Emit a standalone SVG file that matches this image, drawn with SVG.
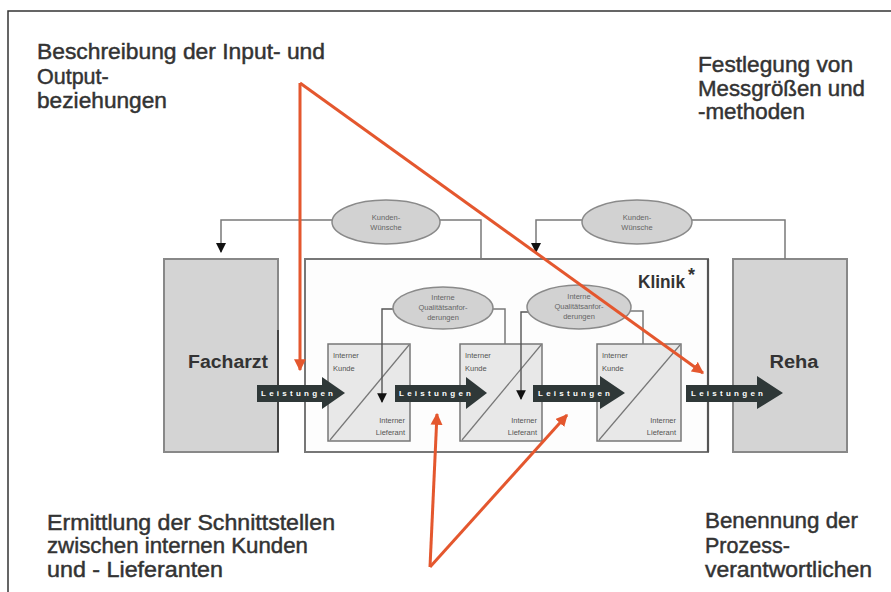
<svg xmlns="http://www.w3.org/2000/svg" width="891" height="592" viewBox="0 0 891 592">
<defs>
<style>
.big{font-family:"Liberation Sans",Arial,sans-serif;font-size:21.5px;fill:#333;stroke:#333;stroke-width:0.45}
.lbl{font-family:"Liberation Sans",Arial,sans-serif;font-weight:bold;font-size:18px;fill:#333}
.sm{font-family:"Liberation Sans",Arial,sans-serif;font-size:7.5px;fill:#555}
.ell{font-family:"Liberation Sans",Arial,sans-serif;font-size:7.5px;fill:#666}
.lei{font-family:"Liberation Sans",Arial,sans-serif;font-size:8px;fill:#fff;font-weight:bold}
.gl{fill:none;stroke:#7a7a7a;stroke-width:1.5}
.dl{fill:none;stroke:#555;stroke-width:1.4}
.red{fill:none;stroke:#e4572e;stroke-width:3}
.bigbox{fill:#d4d4d4;stroke:#888;stroke-width:2}
.pbox{fill:#e8e8e8;stroke:#777;stroke-width:1.5}
.ov{fill:#d2d2d2;stroke:#8a8a8a;stroke-width:1.5}
.arr{fill:#2f3838}
</style>
<marker id="ra" viewBox="0 0 10 10" refX="9" refY="5" markerWidth="4" markerHeight="4" orient="auto" markerUnits="strokeWidth">
<path d="M0,0 L10,5 L0,10 z" fill="#e4572e"/>
</marker>
<marker id="ba" viewBox="0 0 10 10" refX="9" refY="5" markerWidth="7" markerHeight="7" orient="auto" markerUnits="strokeWidth">
<path d="M0,0 L10,5 L0,10 z" fill="#111"/>
</marker>
</defs>
<rect x="0" y="0" width="891" height="592" fill="#fff"/>
<path d="M8,592 L8,11 L891,11" fill="none" stroke="#333" stroke-width="1.5"/>

<g id="text-input-output">
<text class="big" x="37" y="59" textLength="288" lengthAdjust="spacingAndGlyphs">Beschreibung der Input- und</text>
<text class="big" x="37" y="84">Output-</text>
<text class="big" x="37" y="108" textLength="130" lengthAdjust="spacingAndGlyphs">beziehungen</text>
</g>
<g id="text-messgroessen">
<text class="big" x="698" y="72" textLength="155" lengthAdjust="spacingAndGlyphs">Festlegung von</text>
<text class="big" x="698" y="96" textLength="167" lengthAdjust="spacingAndGlyphs">Messgrößen und</text>
<text class="big" x="698" y="119" textLength="107" lengthAdjust="spacingAndGlyphs">-methoden</text>
</g>
<g id="text-schnittstellen">
<text class="big" x="47" y="530" textLength="288" lengthAdjust="spacingAndGlyphs">Ermittlung der Schnittstellen</text>
<text class="big" x="47" y="553" textLength="261" lengthAdjust="spacingAndGlyphs">zwischen internen Kunden</text>
<text class="big" x="47" y="577" textLength="176" lengthAdjust="spacingAndGlyphs">und - Lieferanten</text>
</g>
<g id="text-prozess">
<text class="big" x="705" y="528" textLength="153" lengthAdjust="spacingAndGlyphs">Benennung der</text>
<text class="big" x="705" y="553">Prozess-</text>
<text class="big" x="705" y="577" textLength="167" lengthAdjust="spacingAndGlyphs">verantwortlichen</text>
</g>

<g id="facharzt">
<rect class="bigbox" x="164" y="259" width="114" height="193"/>
<line x1="278" y1="330" x2="278" y2="452" stroke="#444" stroke-width="2"/>
<text class="lbl" x="228" y="368" text-anchor="middle" textLength="80" lengthAdjust="spacingAndGlyphs">Facharzt</text>
</g>
<g id="klinik">
<rect x="305" y="259" width="403" height="193" fill="#fdfdfd" stroke="#777" stroke-width="2"/>
<line x1="708" y1="259" x2="708" y2="452" stroke="#555" stroke-width="2.2"/>
<text class="lbl" x="638" y="288" textLength="47" lengthAdjust="spacingAndGlyphs">Klinik</text>
<text class="lbl" x="688" y="281" font-size="12">*</text>
</g>
<g id="reha">
<rect class="bigbox" x="733" y="259" width="114" height="193"/>
<text class="lbl" x="794" y="368" text-anchor="middle" textLength="49" lengthAdjust="spacingAndGlyphs">Reha</text>
</g>

<g id="prozess1">
<rect class="pbox" x="328" y="344" width="82" height="97"/>
<line x1="330" y1="440" x2="409" y2="345" stroke="#777" stroke-width="1.2"/>
<text class="sm" x="333" y="358">Interner</text>
<text class="sm" x="333" y="371">Kunde</text>
<text class="sm" x="405" y="423" text-anchor="end">Interner</text>
<text class="sm" x="405" y="435" text-anchor="end">Lieferant</text>
</g>
<g id="prozess2">
<rect class="pbox" x="460" y="344" width="82" height="97"/>
<line x1="462" y1="440" x2="541" y2="345" stroke="#777" stroke-width="1.2"/>
<text class="sm" x="465" y="358">Interner</text>
<text class="sm" x="465" y="371">Kunde</text>
<text class="sm" x="537" y="423" text-anchor="end">Interner</text>
<text class="sm" x="537" y="435" text-anchor="end">Lieferant</text>
</g>
<g id="prozess3">
<rect class="pbox" x="597" y="344" width="84" height="97"/>
<line x1="599" y1="440" x2="680" y2="345" stroke="#777" stroke-width="1.2"/>
<text class="sm" x="602" y="358">Interner</text>
<text class="sm" x="602" y="371">Kunde</text>
<text class="sm" x="676" y="423" text-anchor="end">Interner</text>
<text class="sm" x="676" y="435" text-anchor="end">Lieferant</text>
</g>

<g id="connectors">
<path class="gl" d="M481,259 V220 H332"/>
<path class="gl" d="M332,220 H221 V252" marker-end="url(#ba)"/>
<path class="gl" d="M785,259 V220 H692"/>
<path class="gl" d="M582,220 H536 V252" marker-end="url(#ba)"/>
<path class="gl" d="M505,344 V309 H493"/>
<path class="dl" d="M393,309 H382 V402" marker-end="url(#ba)"/>
<path class="gl" d="M643,344 V311 H630"/>
<path class="dl" d="M528,312 H521 V399" marker-end="url(#ba)"/>
</g>

<g id="kunden1">
<ellipse class="ov" cx="386" cy="222" rx="54" ry="22"/>
<text class="ell" x="386" y="220" text-anchor="middle">Kunden-</text>
<text class="ell" x="386" y="230" text-anchor="middle">Wünsche</text>
</g>
<g id="kunden2">
<ellipse class="ov" cx="637" cy="222" rx="55" ry="22"/>
<text class="ell" x="637" y="220" text-anchor="middle">Kunden-</text>
<text class="ell" x="637" y="230" text-anchor="middle">Wünsche</text>
</g>
<g id="quali1">
<ellipse class="ov" cx="443" cy="308" rx="50" ry="21"/>
<text class="ell" x="443" y="300" text-anchor="middle">Interne</text>
<text class="ell" x="443" y="310" text-anchor="middle">Qualitätsanfor-</text>
<text class="ell" x="443" y="320" text-anchor="middle">derungen</text>
</g>
<g id="quali2">
<ellipse class="ov" cx="579" cy="307" rx="52" ry="22"/>
<text class="ell" x="579" y="299" text-anchor="middle">Interne</text>
<text class="ell" x="579" y="309" text-anchor="middle">Qualitätsanfor-</text>
<text class="ell" x="579" y="319" text-anchor="middle">derungen</text>
</g>

<g id="leistungen">
<path class="arr" d="M257,385 H322 V377 L345,393 L322,409 V402 H257 z"/>
<text class="lei" x="297" y="396" text-anchor="middle" textLength="72" lengthAdjust="spacing">Leistungen</text>
<path class="arr" d="M395,385 H466 V377 L487,393 L466,409 V402 H395 z"/>
<text class="lei" x="435" y="396" text-anchor="middle" textLength="72" lengthAdjust="spacing">Leistungen</text>
<path class="arr" d="M533,385 H600 V376 L625,393 L600,409 V402 H533 z"/>
<text class="lei" x="574" y="396" text-anchor="middle" textLength="72" lengthAdjust="spacing">Leistungen</text>
<path class="arr" d="M686,385 H757 V376 L783,393 L757,409 V402 H686 z"/>
<text class="lei" x="727" y="396" text-anchor="middle" textLength="72" lengthAdjust="spacing">Leistungen</text>
</g>

<g id="red-arrows">
<path class="red" d="M300,83 V370" marker-end="url(#ra)"/>
<path class="red" d="M300,83 L703,373" marker-end="url(#ra)"/>
<path class="red" d="M430,567 L437,414" marker-end="url(#ra)"/>
<path class="red" d="M430,567 L567,415" marker-end="url(#ra)"/>
</g>
</svg>
